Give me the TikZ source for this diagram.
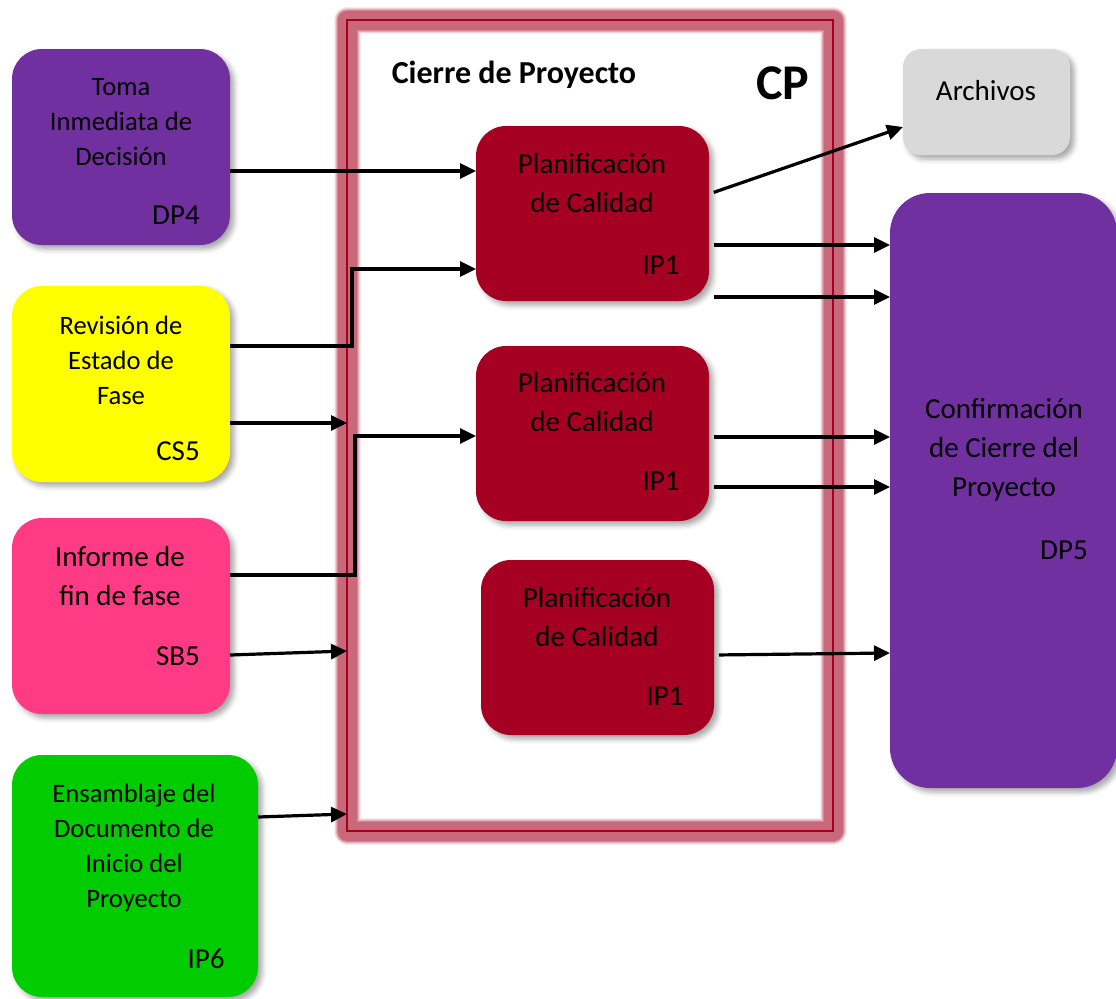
\documentclass[tikz,border=0pt]{standalone}
\usepackage{fontspec}
\setmainfont{Carlito}
\usetikzlibrary{arrows.meta,shadows.blur}

\definecolor{violeta}{HTML}{7030A0}
\definecolor{amarillo}{HTML}{FFFF00}
\definecolor{rosa}{HTML}{FF3B86}
\definecolor{verde}{HTML}{00CC00}
\definecolor{gris}{HTML}{D9D9D9}
\definecolor{granate}{HTML}{A50021}
\definecolor{halo}{HTML}{C86878}

\tikzset{
  caja/.style={rectangle, rounded corners=15pt, inner sep=0pt, outer sep=0pt,
    blur shadow={shadow xshift=2pt, shadow yshift=-2pt, shadow blur radius=2.5pt, shadow opacity=35}},
  proc/.style={caja, fill=granate, minimum width=116.5pt, minimum height=87.5pt},
  marco/.style={rectangle, draw=granate, line width=0.7pt, inner sep=0pt, outer sep=0pt,
    preaction={draw=halo!12, line width=13.5pt, line join=round},
    preaction={draw=halo!30, line width=12.5pt, line join=round},
    preaction={draw=halo!55, line width=11.5pt, line join=round},
    preaction={draw=halo!80, line width=10.5pt, line join=round},
    preaction={draw=halo, line width=9.5pt, line join=round}},
  txt/.style={align=center, font=\fontsize{14.5}{19.5}\selectfont},
  txtp/.style={align=center, font=\fontsize{13.3}{17.5}\selectfont},
  cod/.style={font=\fontsize{14.5}{17}\selectfont},
  flecha/.style={line width=1.6pt, -{Triangle[length=8pt,width=7.5pt]}},
}

\begin{document}
\begin{tikzpicture}[x=0.5pt, y=-0.5pt]
\useasboundingbox (0,0) rectangle (1116,998);

% process frame
\node[marco, minimum width=243pt, minimum height=405.5pt] (cp) at (590,425.5) {};
\node[font=\fontsize{16}{19}\selectfont\bfseries] (titulo) at (514,75) {Cierre de Proyecto};
\node[font=\fontsize{25}{30}\selectfont\bfseries] (sigla) at (783,83) {CP};

% input boxes
\node[caja, fill=violeta, minimum width=109pt, minimum height=98pt] (dp4) at (121,147) {};
\node[txtp] (dp4t) at (121,122) {Toma\\Inmediata de\\Decisión};
\node[cod] (dp4c) at (176,215) {DP4};

\node[caja, fill=amarillo, minimum width=109pt, minimum height=98pt] (cs5) at (121,384) {};
\node[txtp] (cs5t) at (121,360) {Revisión de\\Estado de\\Fase};
\node[cod] (cs5c) at (178,451) {CS5};

\node[caja, fill=rosa, minimum width=109pt, minimum height=98pt] (sb5) at (121,616) {};
\node[txt] (sb5t) at (120,576) {Informe de\\fin de fase};
\node[cod] (sb5c) at (178,656) {SB5};

\node[caja, fill=verde, minimum width=123pt, minimum height=121pt] (ip6) at (135,876) {};
\node[txtp] (ip6t) at (134,848) {Ensamblaje del\\Documento de\\Inicio del\\Proyecto};
\node[cod] (ip6c) at (206,959) {IP6};

% activities
\node[proc] (b1) at (592.5,213.5) {};
\node[txt] (b1t) at (592,183) {Planificación\\de Calidad};
\node[cod] (b1c) at (661,265) {IP1};

\node[proc] (b2) at (592.5,433.5) {};
\node[txt] (b2t) at (592,402) {Planificación\\de Calidad};
\node[cod] (b2c) at (661,481) {IP1};

\node[proc] (b3) at (597.5,647.5) {};
\node[txt] (b3t) at (597,617) {Planificación\\de Calidad};
\node[cod] (b3c) at (665,696) {IP1};

% outputs
\node[caja, rounded corners=9pt, fill=gris, minimum width=83.5pt, minimum height=53pt] (arch) at (986.5,102) {};
\node[txt] (archt) at (986,91) {Archivos};

\node[caja, rounded corners=20pt, fill=violeta, minimum width=113.5pt, minimum height=297.5pt] (dp5) at (1003.5,490.5) {};
\node[txt] (dp5t) at (1004,450) {Confirmación\\de Cierre del\\Proyecto};
\node[cod] (dp5c) at (1064,550) {DP5};

% inputs
\draw[flecha] (dp4.east |- 0,171) -- (b1.west |- 0,171);
\draw[flecha] (cs5.east |- 0,346) -- ++(122,0) |- (b1.west |- 0,269);
\draw[flecha] (cs5.east |- 0,423) -- (cp.west |- 0,423);
\draw[flecha] (sb5.east |- 0,575) -- ++(125,0) |- (b2.west |- 0,436);
\draw[flecha] (sb5.east |- 0,655) -- (cp.west |- 0,651);
\draw[flecha] (ip6.east |- 0,817) -- (cp.west |- 0,814);

% outputs
\draw[flecha, shorten <=2.5pt] (b1.east |- 0,194) -- (arch.west |- 0,127);
\draw[flecha, shorten <=2.5pt] (b1.east |- 0,245) -- (dp5.west |- 0,245);
\draw[flecha, shorten <=2.5pt] (b1.east |- 0,297) -- (dp5.west |- 0,297);
\draw[flecha, shorten <=2.5pt] (b2.east |- 0,437) -- (dp5.west |- 0,437);
\draw[flecha, shorten <=2.5pt] (b2.east |- 0,487) -- (dp5.west |- 0,487);
\draw[flecha, shorten <=2.5pt] (b3.east |- 0,655) -- (dp5.west |- 0,653);
\end{tikzpicture}
\end{document}
